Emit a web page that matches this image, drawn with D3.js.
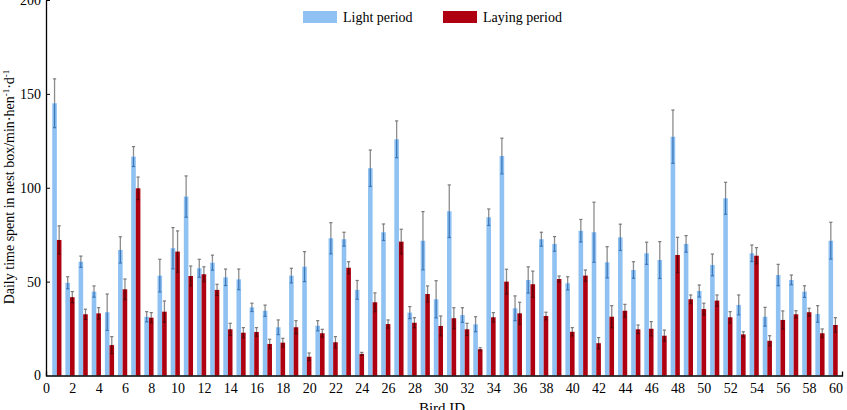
<!DOCTYPE html>
<html>
<head>
<meta charset="utf-8">
<script src="https://cdn.jsdelivr.net/npm/d3@7"></script>
<style>
	body { margin: 0; background: #fff; }
	text { font-family: "Liberation Serif", "Times New Roman", serif; }
</style>
</head>
<body>
<div id="chart"></div>
<script>

var birds = d3.range(1, 61);

var lightMean = [145, 49.4, 60.6, 44.7, 33.7, 66.9, 116.6, 31.3, 53.2, 67.8,
	95.3, 57.1, 60.1, 52.3, 51.2, 36.3, 34.5, 25.7, 53.2, 58,
	26.5, 73.1, 72.6, 45.6, 110.4, 76.3, 125.8, 33.5, 71.8, 40.6,
	87.5, 32.2, 27.3, 84.3, 116.9, 35.8, 50.9, 72.6, 70.1, 49.1,
	77.1, 76.3, 60.3, 73.6, 56.2, 65.1, 61.5, 127.2, 70.1, 45,
	58.9, 94.4, 37.6, 65.1, 31.3, 53.5, 50.9, 44.7, 32.8, 71.8];

var lightErr = [13, 3.2, 3, 3, 9.7, 7, 5.3, 2.7, 8.7, 11,
	11, 4.8, 4, 4.4, 5.5, 2.2, 3, 3.9, 3.9, 8,
	2.7, 8.3, 3.7, 5, 9.7, 4.4, 9.8, 3.2, 15.5, 9.9,
	14, 3.9, 4, 4.4, 9.5, 6.6, 7, 3.7, 3.9, 3.5,
	6, 16, 8.3, 7, 4.4, 5.9, 9.8, 14.2, 4.4, 3.2,
	5.8, 8.5, 5.3, 4.4, 5, 5.7, 2.6, 3.1, 4.4, 9.8];

var layMean = [72.2, 41.7, 32.6, 33.1, 16.2, 45.9, 99.7, 30.8, 34, 66,
	53, 53.9, 45.6, 24.6, 22.8, 23.2, 16.8, 17.5, 25.7, 10,
	22.5, 17.7, 57.4, 11.5, 39, 27.4, 71.3, 28.1, 43.4, 26.4,
	30.5, 24.6, 14, 31, 50, 33.1, 48.6, 31.7, 51.4, 23.3,
	53.2, 17.2, 31.3, 34.5, 24.6, 24.9, 21.2, 64.2, 40.6, 35.4,
	39.9, 31, 21.9, 63.8, 18.5, 29.6, 32.6, 33.7, 22.5, 26.9];

var layErr = [7.5, 3, 2.7, 3, 4.5, 5.5, 6, 2.7, 5.7, 11,
	5.3, 4, 3, 3.2, 2.7, 2.3, 2.5, 2.3, 3.5, 2,
	2.1, 3, 3.2, 0.8, 5, 2.2, 6.6, 2.7, 4.3, 5.3,
	5.6, 3.2, 0.8, 2.5, 6.6, 5.9, 7, 2, 1.6, 2.2,
	3, 3, 5.9, 3.4, 2.3, 3.8, 3, 9.4, 2.3, 3.1,
	3, 3, 1.4, 4.3, 2.7, 4.8, 1.9, 2.1, 2.3, 3.9];

var xTicks = d3.range(0, 61, 2);
var yTicks = [0, 50, 100, 150, 200];

var seriesNames = ['Light period', 'Laying period'];
var seriesFill = ['#8fc2f2', '#ae0010'];
var seriesInner = ['#3f78b8', '#5e0008'];

var width = 847, height = 410;

var svg = d3.select('#chart')
	.append('svg')
	.attr('width', width)
	.attr('height', height);

var x = d3.scaleLinear().domain([0, 60.5]).range([46, 842]);
var y = d3.scaleLinear().domain([0, 200]).range([375.5, 0]);

var barW = x(0.35) - x(0);
// blue bar sits just left of the tick, red bar centred on it
var offsets = [-0.35, 0];

var series = [
	{ name: seriesNames[0], mean: lightMean, err: lightErr },
	{ name: seriesNames[1], mean: layMean, err: layErr }
];

series.forEach((s, si) => {
	var data = birds.map((b, i) => ({ bird: b, mean: s.mean[i], err: s.err[i] }));
	var g = svg.append('g');

	g.selectAll('rect')
		.data(data)
		.enter()
		.append('rect')
		.attr('x', d => x(d.bird + offsets[si]) - barW / 2)
		.attr('width', barW)
		.attr('y', d => y(d.mean))
		.attr('height', d => y(0) - y(d.mean))
		.attr('fill', seriesFill[si]);

	var eb = g.selectAll('g.eb')
		.data(data)
		.enter()
		.append('g')
		.attr('class', 'eb')
		.attr('transform', d => 'translate(' + x(d.bird + offsets[si]) + ',0)');

	// part above the bar
	eb.append('line')
		.attr('y1', d => y(d.mean))
		.attr('y2', d => y(d.mean + d.err))
		.attr('stroke', '#8c8c8c')
		.attr('stroke-width', 1.3);

	eb.append('line')
		.attr('x1', -1.6).attr('x2', 1.6)
		.attr('y1', d => y(d.mean + d.err))
		.attr('y2', d => y(d.mean + d.err))
		.attr('stroke', '#7a7a7a')
		.attr('stroke-width', 1.2);

	// part inside the bar
	eb.append('line')
		.attr('y1', d => y(d.mean))
		.attr('y2', d => y(d.mean - d.err))
		.attr('stroke', seriesInner[si])
		.attr('stroke-width', 1.3);

	eb.append('line')
		.attr('x1', -1.6).attr('x2', 1.6)
		.attr('y1', d => y(d.mean - d.err))
		.attr('y2', d => y(d.mean - d.err))
		.attr('stroke', seriesInner[si])
		.attr('stroke-width', 1.2);
});

// axes
var xAxis = svg.append('g')
	.attr('transform', 'translate(0,' + y(0) + ')')
	.call(d3.axisBottom(x).tickValues(xTicks).tickSizeInner(0).tickSizeOuter(-4).tickPadding(8));

var yAxis = svg.append('g')
	.attr('transform', 'translate(' + x(0) + ',0)')
	.call(d3.axisLeft(y).tickValues(yTicks).tickSizeInner(-4).tickSizeOuter(0).tickPadding(5));

[xAxis, yAxis].forEach(a => {
	a.selectAll('path.domain').attr('stroke', '#000').attr('stroke-width', 1.3);
	a.selectAll('.tick line').attr('stroke', '#000');
	a.selectAll('text')
		.style('font-family', '"Liberation Serif", serif')
		.style('font-size', '14px')
		.attr('fill', '#000');
});
yAxis.selectAll('.tick').filter(d => d === 0).select('line').remove();

// axis titles
svg.append('text')
	.attr('x', 442)
	.attr('y', 413)
	.attr('text-anchor', 'middle')
	.style('font-size', '15px')
	.text('Bird ID');

var yTitle = svg.append('text')
	.attr('transform', 'translate(14,187) rotate(-90)')
	.attr('text-anchor', 'middle')
	.style('font-size', '14px');
yTitle.append('tspan').text('Daily time spent in nest box/min·hen');
yTitle.append('tspan').attr('dy', -5).style('font-size', '9px').text('-1');
yTitle.append('tspan').attr('dy', 5).text('·d');
yTitle.append('tspan').attr('dy', -5).style('font-size', '9px').text('-1');

// legend
var legend = svg.append('g');
var legX = [303, 443];
seriesNames.forEach((n, i) => {
	legend.append('rect')
		.attr('x', legX[i])
		.attr('y', 11)
		.attr('width', 34)
		.attr('height', 12)
		.attr('fill', seriesFill[i]);
	legend.append('text')
		.attr('x', legX[i] + 40)
		.attr('y', 22)
		.style('font-size', '14px')
		.text(n);
});

</script>
</body>
</html>
